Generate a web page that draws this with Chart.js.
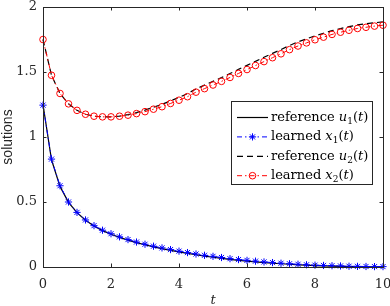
<!DOCTYPE html>
<html>
<head>
<meta charset="utf-8">
<script src="https://cdn.jsdelivr.net/npm/chart.js@4.4.1/dist/chart.umd.min.js"></script>
<style>
  html, body { margin: 0; padding: 0; background: #fff; }
  canvas { display: block; }
</style>
</head>
<body>
<canvas id="solChart" width="390" height="306"></canvas>
<script>
// time samples (markers every 0.25)
const tVals = [0, 0.25, 0.5, 0.75, 1, 1.25, 1.5, 1.75, 2, 2.25, 2.5, 2.75, 3, 3.25, 3.5, 3.75,
  4, 4.25, 4.5, 4.75, 5, 5.25, 5.5, 5.75, 6, 6.25, 6.5, 6.75, 7, 7.25, 7.5, 7.75,
  8, 8.25, 8.5, 8.75, 9, 9.25, 9.5, 9.75, 10];

const refU1 = [1.25, 0.825, 0.62, 0.497, 0.418, 0.36, 0.315, 0.28, 0.252, 0.228, 0.207, 0.188,
  0.171, 0.155, 0.141, 0.128, 0.116, 0.105, 0.094, 0.084, 0.075, 0.066, 0.058, 0.051,
  0.045, 0.039, 0.034, 0.029, 0.025, 0.021, 0.017, 0.014, 0.011, 0.009, 0.007, 0.005,
  0.004, 0.003, 0.002, 0.001, 0.001];

const learnedX1 = [1.245, 0.83, 0.625, 0.5, 0.42, 0.362, 0.318, 0.283, 0.256, 0.232, 0.211, 0.192,
  0.175, 0.16, 0.147, 0.134, 0.122, 0.111, 0.1, 0.09, 0.082, 0.073, 0.064, 0.057,
  0.051, 0.045, 0.039, 0.034, 0.029, 0.025, 0.021, 0.017, 0.014, 0.012, 0.01, 0.008,
  0.006, 0.005, 0.004, 0.003, 0.003];

const refU2 = [1.75, 1.475, 1.335, 1.255, 1.205, 1.175, 1.16, 1.155, 1.155, 1.161, 1.172, 1.188,
  1.207, 1.229, 1.251, 1.278, 1.305, 1.334, 1.37, 1.399, 1.428, 1.457, 1.488, 1.52,
  1.551, 1.582, 1.613, 1.643, 1.673, 1.704, 1.732, 1.755, 1.778, 1.798, 1.818, 1.834,
  1.849, 1.862, 1.871, 1.879, 1.886];

const learnedX2 = [1.75, 1.475, 1.335, 1.255, 1.205, 1.175, 1.16, 1.155, 1.155, 1.16, 1.168, 1.18,
  1.195, 1.214, 1.233, 1.258, 1.283, 1.31, 1.345, 1.372, 1.4, 1.428, 1.458, 1.489,
  1.519, 1.55, 1.58, 1.61, 1.64, 1.672, 1.7, 1.724, 1.748, 1.768, 1.789, 1.806,
  1.821, 1.835, 1.844, 1.853, 1.86];

const xTicks = [0, 2, 4, 6, 8, 10];
const xTickLabels = ['0', '2', '4', '6', '8', '10'];
const yTicks = [0, 0.5, 1, 1.5, 2];
const yTickLabels = ['0', '0.5', '1', '1.5', '2'];

const legendNames = ['reference', 'learned', 'reference', 'learned'];
const legendVars = ['u', 'x', 'u', 'x'];
const legendSubs = ['1', '1', '2', '2'];

const serif = '"DejaVu Serif", serif';
const axisColor = '#262626';

const toPts = ys => tVals.map((t, i) => ({ x: t, y: ys[i] }));

const series = [
  { label: 'reference u1(t)', data: toPts(refU1), borderColor: '#000', borderWidth: 1.2,
    borderDash: [], pointStyle: false, order: 4 },
  { label: 'learned x1(t)', data: toPts(learnedX1), borderColor: '#0000ff', borderWidth: 1,
    borderDash: [5, 3, 1.5, 3], pointStyle: 'star', pointRadius: 3.6, order: 3 },
  { label: 'reference u2(t)', data: toPts(refU2), borderColor: '#000', borderWidth: 1.2,
    borderDash: [6, 4], pointStyle: false, order: 2 },
  { label: 'learned x2(t)', data: toPts(learnedX2), borderColor: '#ff0000', borderWidth: 1,
    borderDash: [5, 3, 1.5, 3], pointStyle: 'circle', pointRadius: 3.3, order: 1 }
];

// axes box with inward ticks on all four sides
const framePlugin = {
  id: 'frame',
  afterDatasetsDraw(chart) {
    const { ctx, chartArea: a, scales } = chart;
    ctx.save();
    ctx.strokeStyle = axisColor;
    ctx.lineWidth = 1;
    ctx.setLineDash([]);
    ctx.strokeRect(Math.round(a.left) + 0.5, Math.round(a.top) + 0.5,
      Math.round(a.right - a.left), Math.round(a.bottom - a.top));
    const len = 3.5;
    ctx.beginPath();
    xTicks.forEach(v => {
      const px = Math.round(scales.x.getPixelForValue(v)) + 0.5;
      ctx.moveTo(px, a.bottom); ctx.lineTo(px, a.bottom - len);
      ctx.moveTo(px, a.top); ctx.lineTo(px, a.top + len);
    });
    yTicks.forEach(v => {
      const py = Math.round(scales.y.getPixelForValue(v)) + 0.5;
      ctx.moveTo(a.left, py); ctx.lineTo(a.left + len, py);
      ctx.moveTo(a.right, py); ctx.lineTo(a.right - len, py);
    });
    ctx.stroke();
    ctx.restore();
  }
};

function drawMarker(ctx, style, x, y, r) {
  ctx.beginPath();
  if (style === 'circle') {
    ctx.arc(x, y, r, 0, Math.PI * 2);
  } else {
    const d = r * Math.SQRT1_2;
    ctx.moveTo(x - r, y); ctx.lineTo(x + r, y);
    ctx.moveTo(x, y - r); ctx.lineTo(x, y + r);
    ctx.moveTo(x - d, y - d); ctx.lineTo(x + d, y + d);
    ctx.moveTo(x - d, y + d); ctx.lineTo(x + d, y - d);
  }
  ctx.stroke();
}

// legend with subscripts, drawn like matlab's boxed legend
const legendPlugin = {
  id: 'mathLegend',
  afterDraw(chart) {
    const ctx = chart.ctx;
    const box = { x: 231.5, y: 101.5, w: 141, h: 83 };
    ctx.save();
    ctx.fillStyle = '#fff';
    ctx.fillRect(box.x, box.y, box.w, box.h);
    ctx.strokeStyle = axisColor;
    ctx.lineWidth = 1;
    ctx.setLineDash([]);
    ctx.strokeRect(box.x, box.y, box.w, box.h);

    series.forEach((s, i) => {
      const y = 117.5 + i * 19.4;
      ctx.strokeStyle = s.borderColor;
      ctx.lineWidth = s.borderWidth;
      ctx.setLineDash(s.borderDash);
      ctx.beginPath();
      ctx.moveTo(237, y); ctx.lineTo(268, y);
      ctx.stroke();
      ctx.setLineDash([]);
      if (s.pointStyle) drawMarker(ctx, s.pointStyle, 252.5, y, s.pointRadius);

      let x = 271;
      const base = y + 3.5;
      ctx.fillStyle = '#000';
      ctx.textBaseline = 'alphabetic';
      ctx.textAlign = 'left';
      const put = (txt, font, dy) => {
        ctx.font = font;
        ctx.fillText(txt, x, base + (dy || 0));
        x += ctx.measureText(txt).width;
      };
      put(legendNames[i] + ' ', '13px ' + serif);
      put(legendVars[i], 'italic 13px ' + serif);
      put(legendSubs[i], '9px ' + serif, 3);
      put('(', '13px ' + serif);
      put('t', 'italic 13px ' + serif);
      put(')', '13px ' + serif);
    });
    ctx.restore();
  }
};

new Chart(document.getElementById('solChart'), {
  type: 'line',
  data: {
    datasets: series.map(s => ({
      label: s.label,
      data: s.data,
      borderColor: s.borderColor,
      borderWidth: s.borderWidth,
      borderDash: s.borderDash,
      pointStyle: s.pointStyle,
      pointRadius: s.pointStyle ? s.pointRadius : 0,
      pointBorderColor: s.borderColor,
      pointBackgroundColor: 'rgba(0,0,0,0)',
      pointBorderWidth: 1,
      fill: false,
      tension: 0,
      clip: false,
      order: s.order
    }))
  },
  options: {
    responsive: false,
    animation: false,
    devicePixelRatio: 1,
    layout: { padding: { top: 7, right: 7, left: 0, bottom: 0 } },
    plugins: { legend: { display: false }, tooltip: { enabled: false } },
    scales: {
      x: {
        type: 'linear', min: 0, max: 10,
        afterBuildTicks: s => { s.ticks = xTicks.map(v => ({ value: v })); },
        afterFit: s => { s.height = 39; s.paddingLeft = 0; s.paddingRight = 0; },
        grid: { display: false, drawTicks: false },
        border: { display: false },
        ticks: {
          color: axisColor, padding: 10, font: { family: serif, size: 13 },
          callback: v => xTickLabels[xTicks.indexOf(v)]
        },
        title: {
          display: true, text: 't', color: axisColor, padding: 0,
          font: { family: serif, size: 13, style: 'italic', lineHeight: 0.9 }
        }
      },
      y: {
        type: 'linear', min: 0, max: 2,
        afterBuildTicks: s => { s.ticks = yTicks.map(v => ({ value: v })); },
        afterFit: s => { s.width = 43; s.paddingTop = 0; s.paddingBottom = 0; },
        grid: { display: false, drawTicks: false },
        border: { display: false },
        ticks: {
          color: axisColor, padding: 6, font: { family: serif, size: 13 },
          callback: v => yTickLabels[yTicks.indexOf(v)]
        },
        title: {
          display: true, text: 'solutions', color: axisColor, padding: 0,
          font: { family: '"Liberation Sans", Arial, sans-serif', size: 14, lineHeight: 1.2 }
        }
      }
    }
  },
  plugins: [framePlugin, legendPlugin]
});
</script>
</body>
</html>
